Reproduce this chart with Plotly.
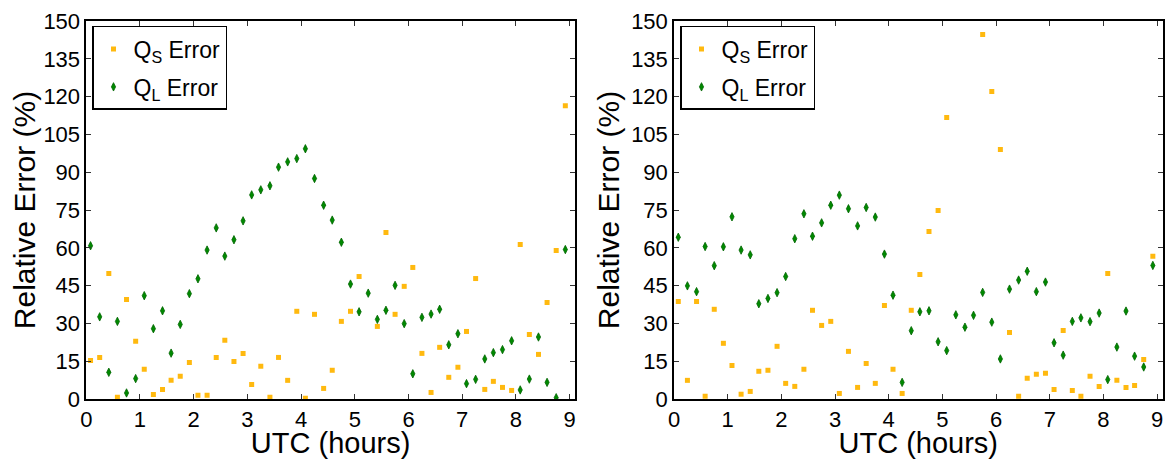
import plotly.graph_objects as go

# ---- data ----
utc_hours = [0.08, 0.25, 0.42, 0.58, 0.75, 0.92, 1.08, 1.25, 1.42, 1.58,
             1.75, 1.92, 2.08, 2.25, 2.42, 2.58, 2.75, 2.92, 3.08, 3.25,
             3.42, 3.58, 3.75, 3.92, 4.08, 4.25, 4.42, 4.58, 4.75, 4.92,
             5.08, 5.25, 5.42, 5.58, 5.75, 5.92, 6.08, 6.25, 6.42, 6.58,
             6.75, 6.92, 7.08, 7.25, 7.42, 7.58, 7.75, 7.92, 8.08, 8.25,
             8.42, 8.58, 8.75, 8.92]

left_qs = [15.3, 16.5, 49.8, 0.7, 39.5, 22.9, 11.8, 1.8, 3.8, 7.4,
           9.0, 14.5, 1.5, 1.5, 16.5, 23.3, 14.9, 18.1, 5.8, 13.0,
           0.7, 16.5, 7.4, 34.8, 0.3, 33.6, 4.2, 11.4, 30.8, 34.8,
           48.6, None, 28.8, 66.1, 33.6, 44.7, 52.2, 18.1, 2.6, 20.5,
           8.6, 12.6, 26.8, 47.8, 3.8, 7.0, 4.6, 3.4, 61.3, 25.6,
           17.7, 38.3, 58.9, 116.4]

left_ql = [60.8, 32.6, 10.6, 30.8, 2.4, 8.1, 41.0, 27.9, 35.0, 18.2,
           29.6, 41.8, 47.7, 59.1, 67.9, 56.7, 63.2, 70.7, 81.0, 83.0,
           84.6, 92.0, 94.1, 95.4, 99.3, 87.5, 76.9, 71.0, 62.2, 45.6,
           34.6, 42.0, 31.6, 35.2, 45.1, 29.9, 10.0, 32.4, 33.7, 35.6,
           21.5, 25.9, 6.1, 7.8, 15.9, 18.4, 19.6, 23.1, 3.6, 7.9,
           24.6, 6.6, 0.5, 59.3]

right_qs = [38.7, 7.4, 38.7, 1.1, 35.6, 22.1, 13.3, 1.9, 3.0, 11.0,
            11.4, 20.9, 6.2, 5.0, 11.8, 35.2, 29.2, 30.8, 2.2, 18.9,
            4.6, 14.1, 6.2, 37.1, 11.8, 2.2, 35.2, 49.4, 66.5, 74.8,
            111.7, None, None, None, 144.6, 122.0, 99.0, 26.4, 1.1, 8.2,
            9.8, 10.2, 3.8, 27.2, 3.4, 1.1, 9.0, 5.0, 49.8, 7.4,
            4.6, 5.4, 15.7, 56.6]

right_ql = [64.2, 44.9, 42.6, 60.5, 52.9, 60.4, 72.3, 59.1, 57.2, 37.8,
            39.9, 42.2, 48.6, 63.6, 73.5, 64.6, 69.9, 76.9, 80.9, 75.5,
            68.7, 76.0, 72.2, 57.5, 41.2, 6.6, 27.1, 34.6, 35.0, 22.7,
            19.2, 33.4, 28.5, 33.2, 42.3, 30.5, 15.9, 43.6, 47.2, 50.7,
            42.6, 46.4, 22.3, 17.4, 30.8, 32.2, 30.7, 34.1, 7.7, 20.6,
            34.9, 17.0, 12.7, 53.0]

x_ticks = [0, 1, 2, 3, 4, 5, 6, 7, 8, 9]
y_ticks = [0, 15, 30, 45, 60, 75, 90, 105, 120, 135, 150]

qs_name = "Q<sub>S</sub> Error"
ql_name = "Q<sub>L</sub> Error"

# ---- styles ----
# The page body has an 8px default margin, so the figure is sized and laid
# out so that it fills the 1173x459 window exactly from that offset.
OFF = 8
W, H = 1173 - OFF, 459 - OFF
FONT = "Liberation Sans, Arial, Helvetica, sans-serif"
QS_COLOR = "#FFB90F"
QL_COLOR = "#008A00"
QL_EDGE = "#006400"

fig = go.Figure()

for xa, ya, qs, ql, leg in [("x", "y", left_qs, left_ql, "legend"),
                            ("x2", "y2", right_qs, right_ql, "legend2")]:
    fig.add_trace(go.Scatter(
        x=utc_hours, y=qs, mode="markers", name=qs_name, xaxis=xa, yaxis=ya,
        legend=leg, legendgroup="qs",
        marker=dict(symbol="square", size=5, color=QS_COLOR,
                    line=dict(width=0)),
        cliponaxis=True))
    fig.add_trace(go.Scatter(
        x=utc_hours, y=ql, mode="markers", name=ql_name, xaxis=xa, yaxis=ya,
        legend=leg, legendgroup="ql",
        marker=dict(symbol="diamond-tall", size=6, color=QL_COLOR,
                    line=dict(width=0.8, color=QL_EDGE)),
        cliponaxis=True))

left_dom = [(86.25 - OFF) / W, (575.0 - OFF) / W]
right_dom = [(674.0 - OFF) / W, (1162.5 - OFF) / W]
top_px = 21 - OFF
plot_h = 378.3
bottom_m = H - top_px - plot_h

axis_common = dict(
    showline=True, linecolor="black", linewidth=1.5, mirror="ticks",
    ticks="inside", ticklen=5, tickwidth=1, tickcolor="#333333",
    showgrid=False, zeroline=False, automargin=False,
    tickfont=dict(family=FONT, size=22, color="black"),
)

xa_common = dict(axis_common, range=[0, 9.1], tickvals=x_ticks,
                 title=dict(text="UTC (hours)", standoff=0,
                            font=dict(family=FONT, size=29, color="black")))
ya_common = dict(axis_common, range=[0, 150], tickvals=y_ticks,
                 title=dict(text="Relative Error (%)", standoff=3,
                            font=dict(family=FONT, size=30, color="black")))

legend_common = dict(
    bgcolor="white", bordercolor="black", borderwidth=1.5,
    font=dict(family=FONT, size=23, color="black"),
    xanchor="left", yanchor="top", tracegroupgap=5, itemsizing="trace",
)

fig.update_layout(
    width=W, height=H,
    margin=dict(l=0, r=0, t=top_px, b=bottom_m, pad=0, autoexpand=False),
    paper_bgcolor="white", plot_bgcolor="white",
    font=dict(family=FONT, color="black"),
    xaxis=dict(xa_common, domain=left_dom, anchor="y"),
    yaxis=dict(ya_common, domain=[0, 1], anchor="x"),
    xaxis2=dict(xa_common, domain=right_dom, anchor="y2"),
    yaxis2=dict(ya_common, domain=[0, 1], anchor="x2"),
    legend=dict(legend_common, x=(92 - OFF) / W, y=1 - (26 - 21) / plot_h),
    legend2=dict(legend_common, x=(680 - OFF) / W, y=1 - (26 - 21) / plot_h),
    showlegend=True,
)

fig.write_html("out.html")
